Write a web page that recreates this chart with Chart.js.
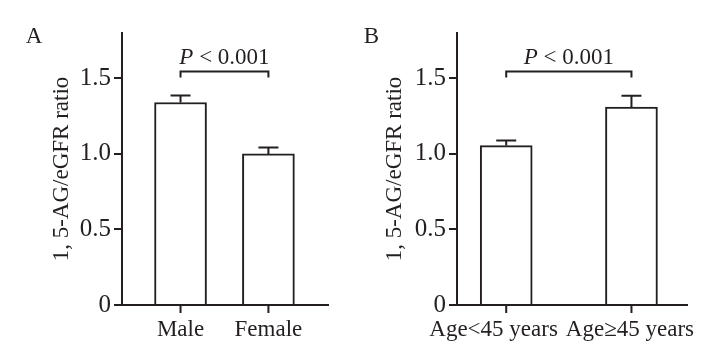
<!DOCTYPE html>
<html>
<head>
<meta charset="utf-8">
<script src="https://cdn.jsdelivr.net/npm/chart.js@4"></script>
<style>
  html,body{margin:0;padding:0;background:#fff;}
  #wrap{position:relative;width:710px;height:356px;}
  canvas{position:absolute;top:0;}
</style>
</head>
<body>
<div id="wrap">
  <canvas id="cA" width="355" height="356" style="left:0"></canvas>
  <canvas id="cB" width="355" height="356" style="left:355px"></canvas>
</div>
<script>
// ---- data ----
const categoriesA = ['Male', 'Female'];
const meansA = [1.34, 1.0];
const errorsA = [0.047, 0.043];
const categoriesB = ['Age<45 years', 'Age\u226545 years'];
const meansB = [1.055, 1.31];
const errorsB = [0.034, 0.075];
const yTicks = [0, 0.5, 1.0, 1.5];
const yTitle = '1, 5-AG/eGFR ratio';
const pText = ['P', ' < 0.001'];
const bracketLevel = 1.545;

const INK = '#231f20';
const FONT = '"Liberation Serif", "Times New Roman", serif';

const annot = {
  id: 'annot',
  afterDatasetsDraw(chart, args, o) {
    const ctx = chart.ctx, x = chart.scales.x, y = chart.scales.y;
    ctx.save();
    ctx.strokeStyle = INK; ctx.fillStyle = INK; ctx.lineWidth = 2;
    // error bars and category tick marks
    const y0 = y.getPixelForValue(0);
    o.means.forEach((m, i) => {
      const px = x.getPixelForValue(i);
      const yt = y.getPixelForValue(m);
      const ye = y.getPixelForValue(m + o.errors[i]);
      ctx.beginPath();
      ctx.moveTo(px, yt); ctx.lineTo(px, ye);
      ctx.moveTo(px - 10, ye); ctx.lineTo(px + 10, ye);
      ctx.moveTo(px, y0); ctx.lineTo(px, y0 + 8);
      ctx.stroke();
    });
    // bracket
    const x0 = x.getPixelForValue(0), x1 = x.getPixelForValue(1);
    const yb = y.getPixelForValue(bracketLevel);
    ctx.beginPath();
    ctx.moveTo(x0, yb + 6); ctx.lineTo(x0, yb); ctx.lineTo(x1, yb); ctx.lineTo(x1, yb + 6);
    ctx.stroke();
    // P text
    ctx.textBaseline = 'alphabetic';
    ctx.font = 'italic 23px ' + FONT;
    const w1 = ctx.measureText(pText[0]).width;
    ctx.font = '23px ' + FONT;
    const w2 = ctx.measureText(pText[1]).width;
    const cx = (x0 + x1) / 2;
    const sx = cx - (w1 + w2) / 2;
    ctx.textAlign = 'left';
    ctx.font = 'italic 23px ' + FONT;
    ctx.fillText(pText[0], sx, yb - 8);
    ctx.font = '23px ' + FONT;
    ctx.fillText(pText[1], sx + w1, yb - 8);
    // panel letter
    ctx.font = '23px ' + FONT;
    ctx.textAlign = 'center';
    ctx.fillText(o.letter, o.letterX, 43);
    ctx.restore();
  }
};

function makeChart(id, cats, means, errors, letter, cfg) {
  return new Chart(document.getElementById(id), {
    type: 'bar',
    data: {
      datasets: [{
        data: means.map((v, i) => ({x: i, y: v})),
        backgroundColor: '#ffffff',
        borderColor: INK,
        borderWidth: 2,
        barThickness: 52
      }]
    },
    options: {
      responsive: false,
      devicePixelRatio: 1,
      animation: false,
      layout: {padding: {left: 0, top: 33, right: cfg.padRight, bottom: 0}},
      plugins: {
        legend: {display: false},
        tooltip: {enabled: false},
        annot: {means, errors, letter, letterX: cfg.letterX}
      },
      scales: {
        x: {
          type: 'linear',
          offset: false,
          min: cfg.xmin, max: cfg.xmax,
          afterBuildTicks: s => { s.ticks = cfg.labelAt.map(v => ({value: v})); },
          afterFit: s => { s.height = 51; },
          border: {display: true, color: INK, width: 2},
          grid: {offset: false, drawOnChartArea: false, drawTicks: false, color: INK, lineWidth: 2},
          ticks: {
            autoSkip: false, maxRotation: 0, padding: 11, color: INK,
            font: {family: FONT, size: 23},
            callback: (v, i) => cats[i]
          }
        },
        y: {
          min: 0, max: 1.8,
          afterBuildTicks: s => { s.ticks = yTicks.map(v => ({value: v})); },
          afterFit: s => { s.width = cfg.yWidth; },
          border: {display: true, color: INK, width: 2},
          grid: {drawOnChartArea: false, drawTicks: true, tickLength: 8, color: INK, lineWidth: 2},
          ticks: {
            padding: 3, color: INK,
            font: {family: FONT, size: 25},
            callback: v => v === 0 ? '0' : v.toFixed(1)
          },
          title: {
            display: true, text: yTitle, color: INK,
            font: {family: FONT, size: 23},
            padding: {top: cfg.titlePad, bottom: 0}
          }
        }
      }
    },
    plugins: [annot]
  });
}

makeChart('cA', categoriesA, meansA, errorsA, 'A',
  {padRight: 27, yWidth: 122, titlePad: 48.2, xmin: -0.666, xmax: 1.678, letterX: 34, labelAt: [0, 1]});
makeChart('cB', categoriesB, meansB, errorsB, 'B',
  {padRight: 20, yWidth: 102, titlePad: 26.2, xmin: -0.393, xmax: 1.44, letterX: 16.5, labelAt: [-0.101, 0.988]});
</script>
</body>
</html>
